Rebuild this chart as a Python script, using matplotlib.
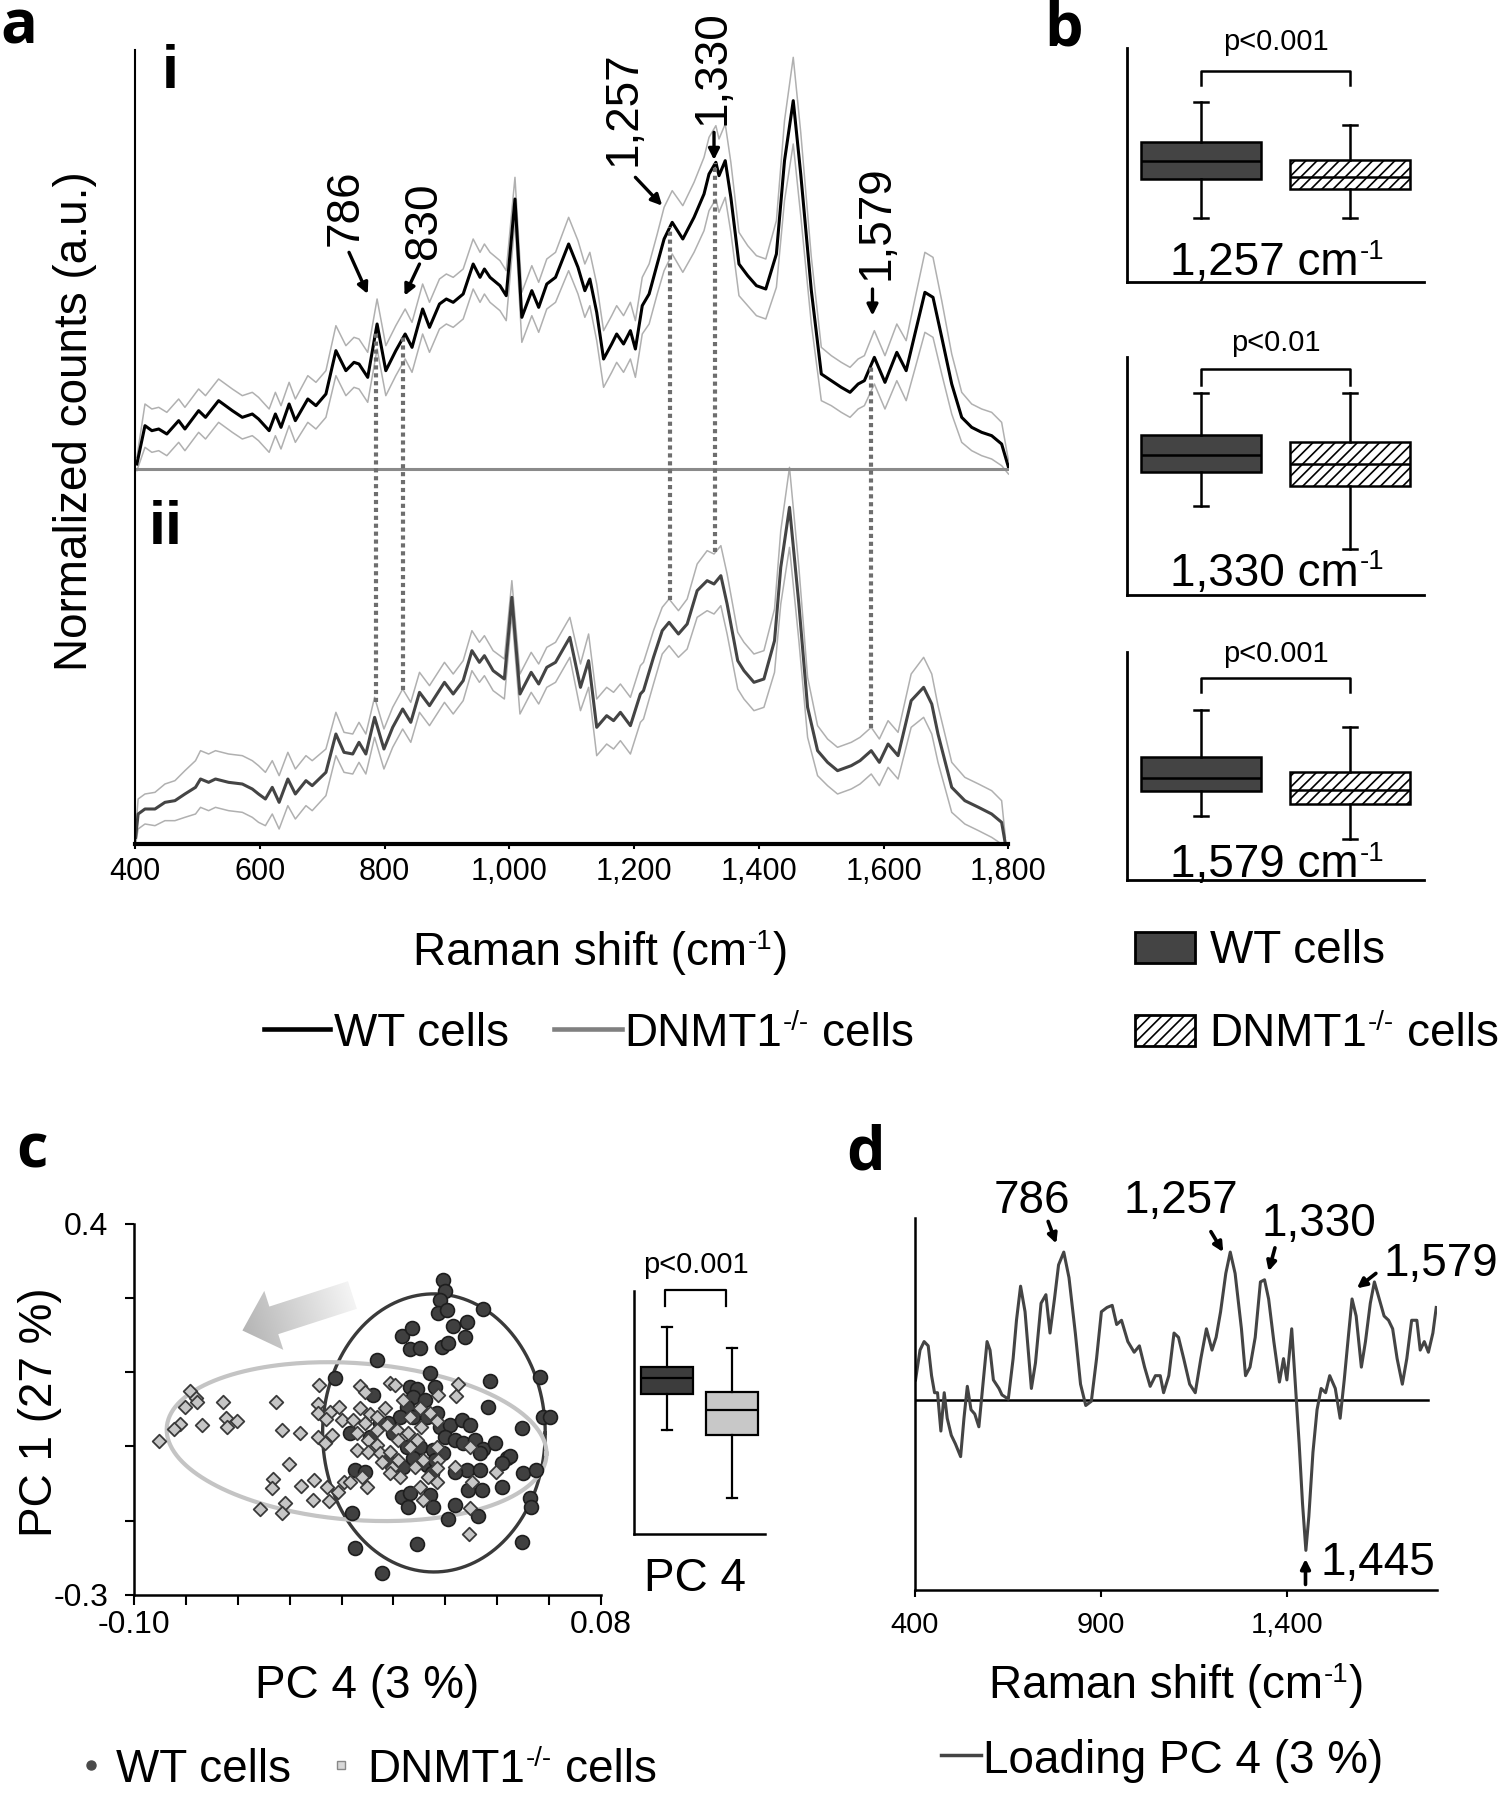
import numpy as np
import matplotlib
matplotlib.use("Agg")
import matplotlib.pyplot as plt
from matplotlib.patches import Rectangle, Polygon
from matplotlib.colors import LinearSegmentedColormap

W, H = 1498, 1793

# ---------------- panel a: mean spectra (a.u.) +/- sd ----------------
wt_shift = [403, 416, 427, 438, 451, 470, 480, 502, 513, 534,
            556, 572, 588, 598, 615, 625, 634, 647, 657, 677,
            690, 706, 722, 738, 751, 759, 773, 788, 802, 818,
            833, 844, 861, 872, 888, 899, 910, 926, 942, 953,
            960, 969, 985, 995, 1009, 1020, 1036, 1047, 1060, 1074,
            1095, 1110, 1121, 1129, 1140, 1151, 1164, 1172, 1183, 1194,
            1202, 1213, 1224, 1237, 1248, 1261, 1278, 1296, 1312, 1320,
            1331, 1336, 1346, 1355, 1368, 1382, 1396, 1411, 1428, 1441,
            1455, 1467, 1484, 1500, 1516, 1532, 1546, 1559, 1569, 1585,
            1602, 1621, 1636, 1650, 1666, 1679, 1693, 1709, 1725, 1741,
            1757, 1773, 1789, 1800]
wt_mean = [1.5, 13.0, 11.5, 12.0, 10.5, 14.5, 12.0, 17.5, 15.5, 20.5,
           17.5, 15.5, 16.5, 15.0, 11.5, 16.5, 12.5, 19.5, 14.5, 21.0,
           19.0, 22.5, 35.5, 29.5, 32.0, 31.5, 27.5, 43.5, 29.5, 35.5,
           40.5, 36.5, 48.0, 42.5, 49.5, 51.0, 50.0, 52.5, 61.5, 57.5,
           60.0, 57.5, 55.0, 52.0, 81.0, 45.5, 53.5, 48.5, 55.5, 57.5,
           67.5, 60.5, 53.5, 57.0, 47.0, 33.0, 37.5, 40.5, 37.5, 41.5,
           36.0, 49.0, 52.5, 61.5, 69.0, 74.0, 69.0, 75.5, 82.5, 88.5,
           92.0, 88.0, 92.5, 81.5, 61.5, 58.0, 55.0, 54.0, 64.5, 92.5,
           110.5, 88.5, 53.5, 28.5, 26.5, 24.5, 23.0, 25.5, 26.5, 33.5,
           26.0, 35.0, 29.5, 40.5, 53.0, 51.5, 39.5, 25.5, 15.5, 12.5,
           11.0, 10.0, 7.5, 0.5]
wt_sd = [2, 6.5, 6.5, 6.5, 6.5, 6.5, 6.5, 6.5, 6.5, 6.5,
         6.5, 6.5, 6.5, 6.5, 6.5, 6.5, 6.5, 6.5, 6.5, 7,
         7, 7, 7.5, 7.5, 7.5, 7.5, 7.5, 7.5, 7.5, 7.5,
         7.5, 7.5, 7.5, 7.5, 7.5, 7.5, 7.5, 7.5, 7.5, 7.5,
         7.5, 7.5, 7.5, 7.5, 6.5, 7.5, 7.5, 7.5, 7.5, 7.5,
         8, 8, 8, 8, 8.5, 8.5, 8.5, 8.5, 8.5, 8.5,
         8.5, 8.5, 9, 9, 9.5, 9.5, 10, 10.5, 11, 11,
         11, 11, 11, 10.5, 9.5, 9, 9, 9, 10, 12,
         13, 12.5, 10, 8, 7.5, 7.5, 7.5, 7.5, 7.5, 8,
         8, 8.5, 9, 10.5, 12, 12, 11, 9, 7.5, 7,
         7, 7, 6.5, 2]

dn_shift = [401, 405, 416, 432, 448, 464, 480, 497, 505, 518,
            529, 550, 572, 588, 598, 609, 620, 631, 645, 657,
            674, 684, 706, 722, 735, 749, 759, 770, 784, 799,
            813, 829, 842, 856, 872, 896, 910, 926, 940, 952,
            960, 974, 992, 1004, 1017, 1035, 1047, 1060, 1074, 1097,
            1114, 1127, 1140, 1156, 1167, 1178, 1194, 1210, 1215, 1231,
            1245, 1256, 1271, 1285, 1301, 1317, 1328, 1339, 1349, 1366,
            1376, 1392, 1408, 1425, 1435, 1449, 1464, 1478, 1494, 1510,
            1526, 1548, 1562, 1580, 1593, 1607, 1623, 1644, 1664, 1677,
            1687, 1709, 1730, 1752, 1773, 1789, 1795]
dn_mean = [2.0, 9.0, 10.5, 10.5, 12.5, 13.0, 15.0, 17.0, 19.5, 18.5,
           19.5, 18.5, 18.0, 16.5, 15.0, 13.5, 17.0, 12.5, 19.5, 15.0,
           19.0, 17.5, 21.5, 33.0, 27.5, 27.0, 30.5, 27.0, 38.0, 28.5,
           35.0, 40.5, 36.5, 45.5, 41.5, 48.5, 45.0, 49.0, 58.0, 54.5,
           56.5, 52.0, 49.5, 74.0, 45.0, 51.5, 48.0, 53.0, 54.5, 62.0,
           47.0, 55.0, 35.0, 38.5, 37.0, 39.5, 35.5, 45.0, 46.0, 56.0,
           64.0, 66.5, 63.0, 66.0, 76.0, 79.0, 78.0, 80.5, 72.0, 55.0,
           52.0, 48.5, 49.5, 61.0, 83.0, 101.0, 72.0, 41.0, 28.0, 24.5,
           22.0, 23.5, 25.0, 28.0, 24.5, 30.0, 26.5, 43.0, 47.0, 42.0,
           33.0, 17.0, 13.0, 11.0, 9.0, 6.5, 0.0]
dn_sd = [2, 4.5, 4.5, 5, 5.5, 6, 7, 8, 8.5, 8.5,
         8.5, 8.5, 8.5, 8.5, 8.5, 8, 8, 8, 8, 7.5,
         7.5, 7.5, 7, 6.5, 6, 6, 6, 6, 6, 6,
         6, 6, 6, 6, 6, 6, 6, 6, 6, 6,
         6, 6, 6, 5, 6, 6, 6, 6, 6, 6,
         7, 8, 8.5, 8.5, 8.5, 8.5, 8.5, 8.5, 8.5, 8,
         7, 7, 7, 7.5, 8, 9, 9, 9, 9, 8.5,
         8.5, 8.5, 8.5, 9.5, 11, 12, 11, 9, 7.5, 7,
         7, 7, 7, 7, 7, 7, 7, 8, 9, 9,
         8.5, 7.5, 7, 7, 7, 6.5, 2]

peak_marks = [786, 830, 1257, 1330, 1579]
peak_names = ['786', '830', '1,257', '1,330', '1,579']
a_ticks = [400, 600, 800, 1000, 1200, 1400, 1600, 1800]

# ---------------- panel b: band intensity boxes ----------------
band_names = ['1,257', '1,330', '1,579']
band_p = ['p<0.001', 'p<0.01', 'p<0.001']
wt_band_lo = [2.72, 3.75, 2.80]
wt_band_q1 = [4.42, 5.17, 3.91]
wt_band_med = [5.17, 5.88, 4.46]
wt_band_q3 = [6.00, 6.73, 5.41]
wt_band_hi = [7.70, 8.47, 7.46]
dn_band_lo = [2.75, 1.95, 1.78]
dn_band_q1 = [3.97, 4.58, 3.35]
dn_band_med = [4.50, 5.50, 3.93]
dn_band_q3 = [5.20, 6.42, 4.75]
dn_band_hi = [6.73, 8.50, 6.71]

# ---------------- panel c: PCA scores ----------------
wt_pc4 = [0.0032, 0.0070, 0.0064, 0.0102, -0.0065, -0.0225, 0.0141, 0.0064, 0.0090, -0.0078,
          0.0077, 0.0122, 0.0051, 0.0025, 0.0077, 0.0128, -0.0020, -0.0052, -0.0168, -0.0090,
          -0.0001, 0.0051, 0.0102, 0.0154, -0.0148, -0.0110, -0.0026, 0.0038, 0.0077, 0.0128,
          0.0032, 0.0064, 0.0057, 0.0141, 0.0154, -0.0161, 0.0090, -0.0148, -0.0045,
          0.0190, 0.0199, 0.0179, 0.0173, 0.0205, 0.0231, 0.0282, 0.0276, 0.0186, 0.0211,
          0.0346, 0.0565, 0.0372, 0.0366, 0.0577, 0.0603, 0.0494, 0.0160, 0.0167, 0.0179,
          0.0218, 0.0263, 0.0295, 0.0199, 0.0237, 0.0269, 0.0314, 0.0346, 0.0391, 0.0334,
          0.0436, 0.0449, 0.0417, 0.0500, 0.0551, 0.0282, 0.0237, 0.0334, 0.0192, 0.0160,
          0.0147, 0.0237, 0.0211, 0.0288, 0.0340, 0.0417, 0.0327, 0.0526, 0.0532, 0.0494]
wt_pc1 = [0.188, 0.203, 0.163, 0.165, 0.143, 0.108, 0.118, 0.092, 0.089, 0.077,
          0.074, 0.067, 0.055, 0.036, 0.036, 0.036, 0.024, 0.024, 0.005, -0.002,
          0.005, -0.021, -0.021, -0.027, -0.064, -0.068, -0.046, -0.058, -0.042, -0.055,
          -0.115, -0.108, -0.134, -0.112, -0.134, -0.146, -0.203, -0.212, -0.259,
          0.294, 0.272, 0.256, 0.231, 0.237, 0.206, 0.215, 0.187, 0.167, 0.174,
          0.238, 0.110, 0.104, 0.054, 0.036, 0.036, 0.014, 0.092, 0.042, 0.017,
          0.020, 0.030, 0.020, -0.002, -0.008, -0.014, -0.008, -0.024, -0.014, -0.033,
          -0.042, -0.039, -0.052, -0.071, -0.064, -0.064, -0.068, -0.064, -0.033, -0.046,
          -0.071, -0.130, -0.156, -0.102, -0.102, -0.096, -0.152, -0.118, -0.134, -0.200]
dn_pc4 = [-0.0784, -0.0761, -0.0803, -0.0758, -0.0658, -0.0453, -0.0823, -0.0846, -0.0739, -0.0645,
          -0.0604, -0.0643, -0.0902, -0.0428, -0.0360, -0.0286, -0.0290, -0.0290, -0.0245, -0.0209,
          -0.0260, -0.0200, -0.0290, -0.0238, -0.0264, -0.0401, -0.0463, -0.0469, -0.0356, -0.0305,
          -0.0257, -0.0514, -0.0418, -0.0431, -0.0309, -0.0247, -0.0213, -0.0190,
          -0.0129, -0.0110, -0.0013, 0.0006, -0.0129, -0.0090, -0.0033, -0.0142, -0.0110, -0.0065,
          -0.0026, 0.0012, -0.0142, -0.0097, -0.0065, -0.0097, -0.0052, -0.0013, 0.0019, 0.0057,
          0.0064, 0.0038, 0.0102, 0.0141, 0.0108, 0.0090, 0.0064, 0.0019, -0.0007, -0.0045,
          0.0025, -0.0013, 0.0083, 0.0115, 0.0134, 0.0102, 0.0115, -0.0168, -0.0103, -0.0122,
          0.0167, 0.0173, -0.0155, -0.0065,
          0.0250, 0.0173, 0.0241, 0.0169, 0.0295, 0.0167, 0.0237, 0.0167, 0.0301, 0.0395, 0.0295, 0.0292]
dn_pc1 = [0.085, 0.072, 0.054, 0.064, 0.064, 0.063, 0.022, 0.012, 0.020, 0.033,
          0.028, 0.017, -0.010, 0.010, 0.005, 0.096, 0.060, 0.042, 0.045, 0.055,
          0.031, 0.030, -0.002, 0.001, -0.014, -0.054, -0.081, -0.099, -0.094, -0.083,
          -0.097, -0.138, -0.127, -0.146, -0.121, -0.122, -0.105, -0.088,
          0.094, 0.083, 0.100, 0.096, 0.052, 0.041, 0.052, 0.005, 0.024, 0.011,
          0.020, 0.011, -0.027, -0.008, -0.017, -0.030, -0.033, -0.030, -0.008, 0.005,
          0.036, 0.067, 0.052, 0.042, 0.017, -0.008, -0.021, -0.046, -0.061, -0.049,
          -0.077, -0.071, -0.058, -0.046, -0.077, -0.096, -0.121, -0.087, -0.096, -0.077,
          -0.021, -0.046, 0.030, 0.036,
          0.098, 0.077, 0.075, 0.027, -0.021, -0.061, -0.058, -0.087, -0.088, -0.068, -0.137, -0.185]
# box of PC4 scores: low whisker, q1, median, q3, high whisker
pc4_box_wt = [4.30, 5.75, 6.42, 6.87, 8.50]
pc4_box_dn = [1.50, 4.07, 5.12, 5.86, 7.65]

# ---------------- panel d: PC4 loading ----------------
ld_shift = [402, 414, 425, 436, 445, 453, 461, 470, 479, 487,
            498, 509, 523, 532, 541, 551, 561, 572, 583, 594,
            602, 611, 626, 634, 651, 664, 673, 684, 696, 713,
            724, 739, 752, 763, 775, 786, 800, 814, 831, 845,
            859, 874, 888, 901, 916, 930, 942, 955, 972, 989,
            1003, 1017, 1032, 1046, 1059, 1068, 1082, 1096, 1108, 1122,
            1138, 1153, 1168, 1183, 1198, 1209, 1221, 1235, 1247, 1260,
            1277, 1288, 1300, 1314, 1328, 1339, 1350, 1364, 1379, 1390,
            1399, 1412, 1421, 1432, 1441, 1450, 1458, 1469, 1480, 1491,
            1503, 1514, 1529, 1542, 1553, 1565, 1574, 1585, 1599, 1610,
            1623, 1634, 1647, 1660, 1672, 1683, 1695, 1709, 1721, 1734,
            1748, 1757, 1768, 1779, 1791, 1800]
ld_value = [0.48, 1.18, 1.38, 1.28, 0.58, 0.18, 0.18, -0.72, 0.18, -0.42,
            -0.82, -1.02, -1.32, -0.42, 0.33, -0.22, -0.32, -0.62, 0.38, 1.38,
            1.18, 0.48, 0.28, 0.13, 0.03, 0.98, 1.88, 2.68, 2.08, 0.28,
            0.88, 2.28, 2.48, 1.58, 2.38, 3.18, 3.48, 2.88, 1.58, 0.38,
            -0.12, -0.02, 0.98, 2.08, 2.18, 2.23, 1.78, 1.88, 1.38, 1.13,
            1.28, 0.78, 0.33, 0.58, 0.58, 0.18, 0.58, 1.58, 1.48, 0.98,
            0.38, 0.18, 0.98, 1.68, 1.18, 1.48, 2.08, 2.98, 3.48, 2.98,
            1.68, 0.58, 0.78, 1.48, 2.78, 2.83, 2.38, 1.38, 0.43, 0.98,
            0.48, 1.68, 0.48, -1.02, -2.42, -3.52, -2.72, -1.22, -0.22, 0.28,
            0.18, 0.58, 0.28, -0.42, 0.48, 1.58, 2.38, 1.98, 0.78, 1.38,
            2.28, 2.78, 2.38, 1.98, 1.88, 1.68, 0.98, 0.38, 0.98, 1.88,
            1.88, 1.18, 1.38, 1.13, 1.58, 2.18]
ld_names = ['786', '1,257', '1,330', '1,579', '1,445']
d_ticks = [400, 900, 1400]

# ---------------- style ----------------
plt.rcParams['font.family'] = ['Liberation Sans', 'DejaVu Sans']
plt.rcParams['hatch.linewidth'] = 1.2

BIG = 33
PX = 100 / 72  # pixels per point

fig = plt.figure(figsize=(W / 100, H / 100), dpi=100)
R = fig.canvas.get_renderer()


def px_axes(x0, y0, x1, y1, **kw):
    return fig.add_axes([x0 / W, 1 - y1 / H, (x1 - x0) / W, (y1 - y0) / H], **kw)


def arrow(ax, start, end, lw=2.4, ms=16):
    ax.annotate('', xy=end, xytext=start,
                arrowprops=dict(arrowstyle='-|>', color='black', lw=lw,
                                mutation_scale=ms, shrinkA=0, shrinkB=0))


def clean(ax, lw=1.8):
    for s in ['top', 'right']:
        ax.spines[s].set_visible(False)
    for s in ['left', 'bottom']:
        ax.spines[s].set_linewidth(lw)


# ---------------- panel a ----------------
ax = px_axes(135, 50, 1008.5, 844)
off = 112.5
ax.set_xlim(400, 1800)
ax.set_ylim(0, 238.2)
wm, ws = np.array(wt_mean), np.array(wt_sd)
dm, ds = np.array(dn_mean), np.array(dn_sd)
ax.plot(wt_shift, wm + ws + off, color='#b0b0b0', lw=1.1)
ax.plot(wt_shift, wm - ws + off, color='#b0b0b0', lw=1.1)
ax.plot(wt_shift, wm + off, color='black', lw=2.2)
ax.plot(dn_shift, dm + ds, color='#b0b0b0', lw=1.1)
ax.plot(dn_shift, dm - ds, color='#b0b0b0', lw=1.1)
ax.plot(dn_shift, dm, color='#444444', lw=2.2)
ax.axhline(off, color='#8a8a8a', lw=2.2)
for p in peak_marks:
    top = np.interp(p, wt_shift, wm) + off
    bot = np.interp(p, dn_shift, dm + ds)
    ax.plot([p, p], [bot, top], color='#6e6e6e', lw=3.0, ls=(0, (1.0, 0.9)))

a_text_pos = [(738, 78.5), (863, 74.5), (1183, 108), (1325, 120.5), (1588, 74)]
a_arrows = [((743, 65), (773, 52.5)), ((856, 61.5), (832, 52)), ((1202, 87.5), (1245, 79)),
            ((1328, 101), (1328, 92.7)), ((1582, 54), (1582, 46))]
for name, (tx, ty), (s, e) in zip(peak_names, a_text_pos, a_arrows):
    ax.text(tx, ty + off, name, rotation=90, fontsize=BIG, ha='center', va='center')
    arrow(ax, (s[0], s[1] + off), (e[0], e[1] + off))

clean(ax, 1.5)
ax.spines['bottom'].set_linewidth(3)
ax.set_yticks([])
ax.set_xticks(a_ticks)
ax.set_xticklabels([f'{t:,}' for t in a_ticks], fontsize=22)
ax.tick_params(axis='x', length=3.6, width=1.5, pad=6)

# ---------------- panel b ----------------
b_frames = [(48, 282), (357, 595), (652, 880)]
b_bracket = [(9.03, 8.42, 10.25, 1.0), (9.5, 8.83, 10.58, 1.08), (8.88, 8.23, 9.9, 0.84)]
b_label_y = []
for k, (y0, y1) in enumerate(b_frames):
    bx = px_axes(1127, y0, 1424, y1)
    bx.set_xlim(0.503, 2.497)
    bx.set_ylim(0, 10)
    stats = [dict(whislo=wt_band_lo[k], q1=wt_band_q1[k], med=wt_band_med[k],
                  q3=wt_band_q3[k], whishi=wt_band_hi[k], fliers=[]),
             dict(whislo=dn_band_lo[k], q1=dn_band_q1[k], med=dn_band_med[k],
                  q3=dn_band_q3[k], whishi=dn_band_hi[k], fliers=[])]
    bp = bx.bxp(stats, positions=[1, 2], widths=0.81, patch_artist=True, showfliers=False,
                capwidths=0.1, boxprops=dict(lw=1.8), medianprops=dict(color='black', lw=1.8),
                whiskerprops=dict(lw=1.8), capprops=dict(lw=1.8))
    bp['boxes'][0].set(facecolor='#444444', edgecolor='black')
    bp['boxes'][1].set(facecolor='white', edgecolor='black', hatch='///')
    br, end, pt, lab = b_bracket[k]
    bx.plot([1, 1, 2, 2], [end, br, br, end], color='black', lw=1.8, clip_on=False)
    bx.text(1.5, pt, band_p[k], fontsize=21, ha='center', va='center')
    b_label_y.append(y0 + (1 - lab / 10) * (y1 - y0))
    clean(bx, 2)
    bx.set_xticks([])
    bx.set_yticks([])

# ---------------- panel c ----------------
cx = px_axes(134, 1223.5, 601, 1595)
cx.set_xlim(-0.10, 0.08)
cx.set_ylim(-0.3, 0.4)
t = np.linspace(0, 2 * np.pi, 300)
cx.plot(0.0156 + 0.0429 * np.cos(t), 0.0054 + 0.262 * np.sin(t), color='#3a3a3a', lw=2.4, zorder=1)
ex = 0.0732 * np.cos(t)
cx.plot(-0.0142 + ex, -0.011 + 0.148 * np.sin(t) - 0.307 * ex, color='#c4c4c4', lw=3, zorder=1)
cx.scatter(wt_pc4, wt_pc1, s=100, marker='o', facecolor='#404040', edgecolor='#1e1e1e',
           lw=1.2, zorder=2)
cx.scatter(dn_pc4, dn_pc1, s=48, marker='D', facecolor='#c6c6c6', edgecolor='#3a3a3a',
           lw=1.3, zorder=3)
clean(cx, 1.8)
xt = np.round(np.arange(-0.10, 0.0801, 0.02), 2)
cx.set_xticks(xt)
cx.set_xticklabels(['-0.10'] + [''] * (len(xt) - 2) + ['0.08'], fontsize=23)
yt = np.linspace(-0.3, 0.4, 6)
cx.set_yticks(yt)
cx.set_yticklabels(['-0.3'] + [''] * 4 + ['0.4'], fontsize=23)
cx.tick_params(axis='x', length=7, width=1.5, pad=4)
cx.tick_params(axis='y', length=6.5, width=1.5, pad=12)

ci = px_axes(634, 1291, 765, 1534)
ci.set_xlim(0.49, 2.51)
ci.set_ylim(0, 10)
stats = [dict(whislo=pc4_box_wt[0], q1=pc4_box_wt[1], med=pc4_box_wt[2], q3=pc4_box_wt[3],
              whishi=pc4_box_wt[4], fliers=[]),
         dict(whislo=pc4_box_dn[0], q1=pc4_box_dn[1], med=pc4_box_dn[2], q3=pc4_box_dn[3],
              whishi=pc4_box_dn[4], fliers=[])]
bp = ci.bxp(stats, positions=[1, 2], widths=0.8, patch_artist=True, showfliers=False,
            capwidths=0.15, boxprops=dict(lw=1.6), medianprops=dict(color='black', lw=1.6),
            whiskerprops=dict(lw=1.6), capprops=dict(lw=1.6))
bp['boxes'][0].set(facecolor='#3c3c3c', edgecolor='black')
bp['boxes'][1].set(facecolor='#c8c8c8', edgecolor='black')
ci.plot([0.97, 0.97, 1.91, 1.91], [9.4, 10.04, 10.04, 9.4], color='black', lw=1.6, clip_on=False)
ci.text(1.45, 11.06, 'p<0.001', fontsize=21, ha='center', va='center')
clean(ci, 1.8)
ci.set_xticks([])
ci.set_yticks([])

# ---------------- panel d ----------------
dx = px_axes(914.8, 1218, 1436.6, 1590)
dx.set_xlim(400, 1801)
dx.set_ylim(-4.45, 4.28)
dx.axhline(0, xmin=0, xmax=(1779 - 400) / 1401, color='black', lw=1.8)
dx.plot(ld_shift, ld_value, color='#444444', lw=2.2)
d_text_pos = [(713, 4.68), (1115, 4.68), (1486, 4.13), (1812, 3.21), (1644, -3.82)]
d_arrows = [((758, 4.2), (780, 3.68)), ((1195, 3.96), (1228, 3.48)), ((1367, 3.58), (1350, 3.03)),
            ((1638, 2.98), (1587, 2.63)), ((1449, -4.32), (1449, -3.72))]
for name, (tx, ty), (s, e) in zip(ld_names, d_text_pos, d_arrows):
    dx.text(tx, ty, name, fontsize=BIG, ha='center', va='center')
    arrow(dx, s, e, lw=2.6, ms=14)
clean(dx, 1.8)
dx.set_yticks([])
dx.set_xticks(d_ticks)
dx.set_xticklabels([f'{v:,}' for v in d_ticks], fontsize=21)
dx.tick_params(axis='x', length=5, width=1.5, pad=10)

# ---------------- figure-level labels, legends, arrow ----------------
ov = fig.add_axes([0, 0, 1, 1], zorder=20)
ov.set_xlim(0, W)
ov.set_ylim(H, 0)
ov.axis('off')
ov.patch.set_alpha(0)


def rich(x, y, parts, size=BIG, ha='left'):
    """Text with small raised pieces; y is the middle of the capitals (pixels)."""
    items = []
    for s, sup, gap in parts:
        fs = size * 0.6 if sup else size
        tt = ov.text(0, 0, s, fontsize=fs, ha='left', va='baseline')
        items.append((tt, sup, gap * size * PX, tt.get_window_extent(R).width))
    total = sum(g + w for _, _, g, w in items)
    cur = x - total / 2 if ha == 'center' else x
    base = y + 0.358 * size * PX
    for tt, sup, g, w in items:
        cur += g
        tt.set_position((cur, base - (0.36 * size * PX if sup else 0)))
        cur += w + (1 if sup else 0)


def cells(x, y, size=BIG):
    rich(x, y, [('DNMT1', False, 0), ('-/-', True, 0.02), ('cells', False, 0.26)], size)


for lab, (x, y) in zip('abcd', [(19, 28), (1064, 30), (32, 1152), (866, 1154)]):
    ov.text(x, y, lab, fontsize=44, fontweight='bold', fontfamily=['Open Sans', 'DejaVu Sans'],
            ha='center', va='center')
ov.text(170, 73, 'i', fontsize=44, fontweight='bold', ha='center', va='center')
ov.text(166, 528, 'ii', fontsize=44, fontweight='bold', ha='center', va='center')

raman = [('Raman shift (cm', False, 0), ('-1', True, 0.02), (')', False, 0)]
rich(600, 949, raman, ha='center')
ov.text(75, 421, 'Normalized counts (a.u.)', fontsize=BIG, rotation=90, ha='center', va='center')
ov.plot([264, 330], [1029, 1029], color='black', lw=3.3)
rich(334, 1030, [('WT cells', False, 0)])
ov.plot([554, 622], [1029, 1029], color='#808080', lw=3.3)
cells(624, 1030)

for name, yl in zip(band_names, b_label_y):
    rich(1277, yl, [(name + ' cm', False, 0), ('-1', True, 0.02)], ha='center')
ov.add_patch(Rectangle((1135, 932), 60, 31, facecolor='#444444', edgecolor='black', lw=2))
rich(1210, 947, [('WT cells', False, 0)])
ov.add_patch(Rectangle((1135, 1015), 60, 31, facecolor='white', edgecolor='black', lw=2,
                       hatch='///'))
cells(1209, 1030)

rich(367, 1682, [('PC 4 (3 %)', False, 0)], ha='center')
ov.text(40, 1412, 'PC 1 (27 %)', fontsize=BIG, rotation=90, ha='center', va='center')
rich(695, 1575, [('PC 4', False, 0)], ha='center')
ov.plot([91], [1765], marker='o', ms=6.5, color='#4a4a4a', ls='none')
rich(116, 1766, [('WT cells', False, 0)])
ov.plot([341], [1765], marker='s', ms=6, markerfacecolor='#d8d8d8', markeredgecolor='#888888',
        ls='none')
cells(367, 1766)

rich(1176, 1682, raman, ha='center')
ov.plot([941, 981], [1755, 1755], color='#444444', lw=2.5)
rich(983, 1757, [('Loading PC 4 (3 %)', False, 0)])

# shaded arrow in panel c (tail light, head darker)
tail, tip = np.array([352.4, 1295.0]), np.array([242.4, 1330.5])
d = (tip - tail) / np.linalg.norm(tip - tail)
n = np.array([-d[1], d[0]])
base = tip - d * 33
poly = np.array([tail + n * 14.5, base + n * 14.5, base + n * 31, tip,
                 base - n * 31, base - n * 14.5, tail - n * 14.5])
patch = Polygon(poly, closed=True, facecolor='none', edgecolor='none')
ov.add_patch(patch)
x0, x1 = poly[:, 0].min(), poly[:, 0].max()
y0, y1 = poly[:, 1].min(), poly[:, 1].max()
gx, gy = np.meshgrid(np.linspace(x0, x1, 200), np.linspace(y0, y1, 120))
grad = ((gx - tail[0]) * d[0] + (gy - tail[1]) * d[1]) / np.linalg.norm(tip - tail)
cmap = LinearSegmentedColormap.from_list('arr', ['#f4f4f4', '#b4b4b4'])
im = ov.imshow(grad, extent=(x0, x1, y1, y0), origin='upper', cmap=cmap, vmin=0, vmax=1,
               aspect='auto', zorder=1)
im.set_clip_path(patch)
ov.set_xlim(0, W)
ov.set_ylim(H, 0)

fig.savefig('out.png', dpi=100)
